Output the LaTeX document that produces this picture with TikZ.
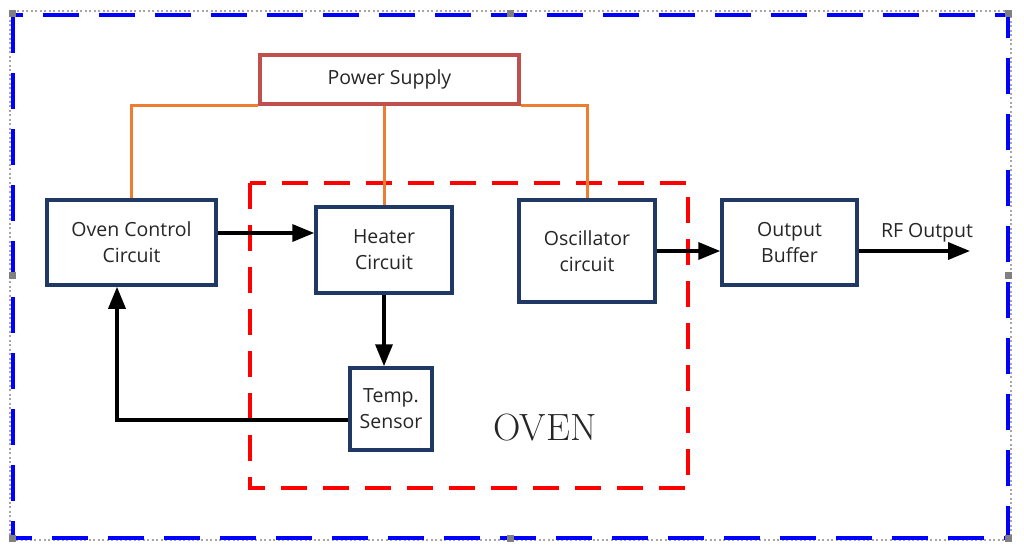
\documentclass[tikz,border=0pt]{standalone}
\usepackage{fontspec}
\setmainfont{Open Sans}
\newfontfamily\ovenfont{Latin Modern Roman}
\usetikzlibrary{arrows.meta}
\definecolor{navy}{RGB}{31,56,100}
\definecolor{psred}{RGB}{192,80,77}
\definecolor{feed}{RGB}{237,125,49}
\definecolor{txt}{RGB}{38,38,38}
\tikzset{
  blk/.style={draw=navy, line width=3.5pt, fill=white, align=center, text=txt,
    font=\fontsize{19.5}{26}\selectfont, inner sep=0pt},
  psbox/.style={draw=psred, line width=3.5pt, fill=white, text=txt,
    font=\fontsize{19.5}{26}\selectfont, inner sep=0pt},
  feedline/.style={draw=feed, line width=3pt},
  arr/.style={line width=3.5pt, -{Triangle[length=22pt,width=17pt]}},
  handle/.style={fill=gray, draw=none, minimum size=7pt, inner sep=0pt},
}
\begin{document}
\begin{tikzpicture}[x=1pt,y=-1pt]
\useasboundingbox (0,0) rectangle (1024,548);
% selection frame
\draw[gray!70, line width=1.2pt, dash pattern=on 2pt off 2.5pt] (10,11) rectangle (1011,540);
\draw[blue, line width=4.5pt, dash pattern=on 36pt off 20pt, dash phase=-2pt] (13,15) rectangle (1008,538);
\foreach \p/\q [count=\i] in {12.5/14, 510.5/14, 1008.5/14, 12.5/275, 1008.5/275, 12.5/538, 510.5/538, 1008.5/538}
  \node[handle] (h\i) at (\p,\q) {};
% oven
\draw[red, line width=3.5pt, dash pattern=on 26pt off 16pt] (250,183) rectangle (688,488);
\node[font=\ovenfont\fontsize{38}{40}\selectfont, text=black!85] (oven) at (545,428) {OVEN};
% blocks
\node[psbox, minimum width=259pt, minimum height=49pt] (ps) at (389.5,79.5) {Power Supply};
\node[blk, minimum width=169pt, minimum height=85pt] (occ) at (131.5,242.5) {Oven Control\\Circuit};
\node[blk, minimum width=136pt, minimum height=86pt] (heat) at (384,250) {Heater\\Circuit};
\node[blk, minimum width=136pt, minimum height=102pt] (osc) at (587,251) {Oscillator\\circuit};
\node[blk, minimum width=135pt, minimum height=85pt] (buf) at (789.5,242.5) {Output\\Buffer};
\node[blk, minimum width=82pt, minimum height=82pt] (ts) at (391,409) {Temp.\\Sensor};
% power feeds
\draw[feedline] (ps.south west) -| (occ.north);
\draw[feedline] (ps.south east) -| (osc.north);
\draw[feedline] (ps.south -| heat.north) -- (heat.north);
% signals
\draw[arr] ([yshift=9.5pt]occ.east) -- ([yshift=9.5pt]occ.east -| heat.west);
\draw[arr] (heat.south) -- (heat.south |- ts.north);
\draw[arr] ([yshift=-11pt]ts.west) -| ([xshift=-14.5pt]occ.south);
\draw[arr] (osc.east) -- (osc.east -| buf.west);
\coordinate (rf) at (970,251);
\draw[arr] (buf.east |- rf) -- (rf);
\node[text=txt, font=\fontsize{19.5}{26}\selectfont] (rflabel) at (927,233) {RF Output};
\end{tikzpicture}
\end{document}
